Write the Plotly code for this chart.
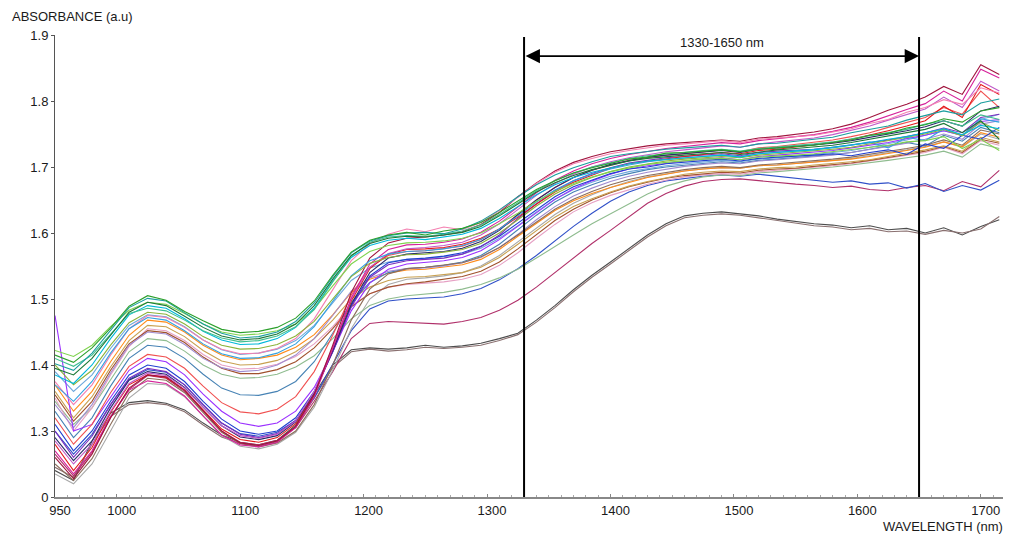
import plotly.graph_objects as go

# Wavelength grid (nm)
wavelength_nm = list(range(950, 1716, 15))

# Absorbance spectra (a.u.)
spec_a1 = [1.415, 1.404, 1.426, 1.456, 1.489, 1.505, 1.498, 1.481, 1.467, 1.454, 1.449, 1.451, 1.457, 1.471,
           1.497, 1.536, 1.571, 1.589, 1.597, 1.601,
           1.597, 1.603, 1.607, 1.616, 1.631,
           1.648, 1.666, 1.679, 1.691, 1.699, 1.706, 1.712, 1.715, 1.721, 1.722,
           1.724, 1.726, 1.723, 1.727, 1.729, 1.731, 1.733, 1.737, 1.741, 1.748, 1.751, 1.759, 1.764, 1.773, 1.768, 1.785, 1.790]
spec_a2 = [1.402, 1.392, 1.418, 1.452, 1.487, 1.501, 1.497, 1.479, 1.462, 1.448, 1.441, 1.443, 1.450, 1.466,
           1.494, 1.534, 1.570, 1.588, 1.596, 1.600,
           1.601, 1.599, 1.606, 1.618, 1.635,
           1.655, 1.673, 1.688, 1.699, 1.708, 1.716, 1.720, 1.724, 1.727, 1.729,
           1.731, 1.733, 1.730, 1.735, 1.736, 1.739, 1.742, 1.745, 1.752, 1.757, 1.762, 1.771, 1.778, 1.785, 1.779, 1.797, 1.803]
spec_a3 = [1.385, 1.372, 1.400, 1.440, 1.476, 1.490, 1.486, 1.470, 1.451, 1.438, 1.431, 1.432, 1.440, 1.457,
           1.486, 1.527, 1.563, 1.581, 1.589, 1.592,
           1.590, 1.594, 1.598, 1.607, 1.622,
           1.640, 1.658, 1.673, 1.684, 1.692, 1.699, 1.705, 1.709, 1.712, 1.714,
           1.716, 1.718, 1.715, 1.720, 1.722, 1.724, 1.726, 1.730, 1.733, 1.737, 1.742, 1.746, 1.752, 1.758, 1.749, 1.763, 1.758]
spec_a4 = [1.422, 1.413, 1.430, 1.458, 1.483, 1.495, 1.492, 1.478, 1.462, 1.450, 1.445, 1.447, 1.452, 1.462,
           1.485, 1.520, 1.553, 1.572, 1.581, 1.585,
           1.586, 1.588, 1.592, 1.600, 1.614,
           1.630, 1.648, 1.663, 1.675, 1.685, 1.693, 1.699, 1.704, 1.707, 1.710,
           1.712, 1.713, 1.711, 1.715, 1.716, 1.718, 1.720, 1.723, 1.726, 1.729, 1.733, 1.738, 1.740, 1.746, 1.728, 1.742, 1.725]
spec_a5 = [1.410, 1.398, 1.415, 1.447, 1.478, 1.486, 1.482, 1.468, 1.452, 1.441, 1.435, 1.437, 1.444, 1.458,
           1.484, 1.526, 1.565, 1.586, 1.594, 1.596,
           1.595, 1.598, 1.603, 1.612, 1.628,
           1.646, 1.664, 1.679, 1.691, 1.700, 1.707, 1.713, 1.717, 1.720, 1.722,
           1.725, 1.727, 1.724, 1.728, 1.730, 1.732, 1.735, 1.738, 1.743, 1.747, 1.753, 1.757, 1.765, 1.770, 1.762, 1.779, 1.772]
spec_p1 = [1.375, 1.340, 1.370, 1.415, 1.455, 1.475, 1.472, 1.457, 1.438, 1.424, 1.417, 1.418, 1.425, 1.440,
           1.470, 1.515, 1.558, 1.584, 1.598, 1.606,
           1.602, 1.609, 1.605, 1.616, 1.634,
           1.654, 1.675, 1.692, 1.705, 1.713, 1.720, 1.725, 1.729, 1.733, 1.735,
           1.738, 1.740, 1.737, 1.742, 1.744, 1.746, 1.748, 1.753, 1.758, 1.766, 1.772, 1.783, 1.790, 1.802, 1.795, 1.820, 1.812]
spec_b1 = [1.370, 1.330, 1.360, 1.405, 1.445, 1.468, 1.465, 1.450, 1.430, 1.415, 1.408, 1.410, 1.415, 1.427,
           1.446, 1.476, 1.510, 1.530, 1.539, 1.544,
           1.545, 1.548, 1.552, 1.560, 1.575,
           1.595, 1.615, 1.634, 1.649, 1.660, 1.669, 1.677, 1.684, 1.689, 1.694,
           1.697, 1.699, 1.698, 1.702, 1.703, 1.705, 1.707, 1.709, 1.712, 1.716, 1.720, 1.725, 1.730, 1.738, 1.731, 1.752, 1.745]
spec_b2 = [1.360, 1.320, 1.352, 1.397, 1.437, 1.460, 1.458, 1.443, 1.422, 1.406, 1.400, 1.401, 1.407, 1.420,
           1.440, 1.468, 1.500, 1.518, 1.528, 1.533,
           1.534, 1.537, 1.540, 1.548, 1.563,
           1.583, 1.604, 1.624, 1.640, 1.652, 1.662, 1.671, 1.678, 1.684, 1.689,
           1.692, 1.694, 1.693, 1.697, 1.699, 1.700, 1.703, 1.705, 1.708, 1.711, 1.716, 1.720, 1.726, 1.732, 1.724, 1.745, 1.738]
spec_b3 = [1.350, 1.300, 1.335, 1.385, 1.428, 1.455, 1.452, 1.437, 1.416, 1.400, 1.394, 1.395, 1.401, 1.413,
           1.432, 1.458, 1.490, 1.508, 1.518, 1.522,
           1.524, 1.526, 1.530, 1.537, 1.551,
           1.570, 1.592, 1.613, 1.632, 1.646, 1.657, 1.666, 1.674, 1.680, 1.685,
           1.688, 1.690, 1.689, 1.693, 1.695, 1.697, 1.700, 1.702, 1.705, 1.709, 1.713, 1.718, 1.722, 1.730, 1.720, 1.740, 1.733]
spec_b4 = [1.340, 1.305, 1.340, 1.388, 1.430, 1.450, 1.447, 1.431, 1.410, 1.396, 1.390, 1.392, 1.400, 1.415,
           1.440, 1.475, 1.512, 1.532, 1.542, 1.546,
           1.547, 1.550, 1.555, 1.563, 1.578,
           1.598, 1.620, 1.640, 1.656, 1.668, 1.678, 1.686, 1.692, 1.697, 1.701,
           1.704, 1.706, 1.705, 1.709, 1.711, 1.713, 1.715, 1.718, 1.722, 1.726, 1.731, 1.736, 1.742, 1.750, 1.742, 1.765, 1.770]
spec_b5 = [1.390, 1.360, 1.385, 1.425, 1.460, 1.476, 1.473, 1.458, 1.438, 1.423, 1.416, 1.418, 1.424, 1.437,
           1.460, 1.494, 1.528, 1.547, 1.556, 1.560,
           1.561, 1.564, 1.568, 1.577, 1.592,
           1.611, 1.632, 1.651, 1.666, 1.677, 1.686, 1.693, 1.698, 1.702, 1.705,
           1.708, 1.710, 1.708, 1.712, 1.714, 1.716, 1.719, 1.722, 1.725, 1.730, 1.735, 1.741, 1.748, 1.755, 1.748, 1.772, 1.780]
spec_b6 = [1.345, 1.310, 1.335, 1.378, 1.420, 1.440, 1.437, 1.421, 1.400, 1.386, 1.380, 1.381, 1.386, 1.397,
           1.414, 1.440, 1.470, 1.490, 1.500, 1.505,
           1.508, 1.510, 1.515, 1.522, 1.532,
           1.545, 1.562, 1.580, 1.597, 1.614, 1.629, 1.645, 1.659, 1.671, 1.679,
           1.685, 1.688, 1.687, 1.691, 1.693, 1.695, 1.697, 1.700, 1.703, 1.706, 1.710, 1.714, 1.718, 1.724, 1.715, 1.735, 1.728]
spec_c1 = [1.310, 1.270, 1.300, 1.345, 1.385, 1.400, 1.395, 1.375, 1.345, 1.318, 1.300, 1.295, 1.300, 1.320,
           1.360, 1.420, 1.490, 1.535, 1.555, 1.560,
           1.562, 1.565, 1.570, 1.580, 1.595,
           1.615, 1.635, 1.655, 1.670, 1.680, 1.690, 1.697, 1.700, 1.705, 1.707,
           1.710, 1.712, 1.709, 1.713, 1.715, 1.716, 1.718, 1.720, 1.717, 1.722, 1.726, 1.719, 1.735, 1.728, 1.748, 1.742, 1.760]
spec_c2 = [1.300, 1.260, 1.292, 1.340, 1.380, 1.395, 1.390, 1.370, 1.340, 1.312, 1.295, 1.290, 1.296, 1.316,
           1.358, 1.420, 1.488, 1.533, 1.552, 1.558,
           1.560, 1.562, 1.568, 1.579, 1.597,
           1.622, 1.644, 1.664, 1.679, 1.690, 1.699, 1.706, 1.710, 1.714, 1.716,
           1.718, 1.720, 1.717, 1.722, 1.724, 1.725, 1.727, 1.730, 1.733, 1.737, 1.741, 1.746, 1.752, 1.759, 1.752, 1.775, 1.780]
spec_c3 = [1.280, 1.240, 1.275, 1.328, 1.370, 1.385, 1.381, 1.362, 1.332, 1.303, 1.287, 1.283, 1.290, 1.311,
           1.356, 1.424, 1.497, 1.546, 1.568, 1.575,
           1.576, 1.578, 1.583, 1.592, 1.606,
           1.624, 1.644, 1.662, 1.677, 1.688, 1.698, 1.705, 1.709, 1.713, 1.716,
           1.719, 1.722, 1.720, 1.725, 1.727, 1.730, 1.733, 1.737, 1.742, 1.748, 1.755, 1.762, 1.770, 1.792, 1.775, 1.825, 1.810]
spec_c4 = [1.290, 1.255, 1.285, 1.335, 1.377, 1.390, 1.386, 1.366, 1.336, 1.308, 1.291, 1.287, 1.293, 1.314,
           1.358, 1.422, 1.492, 1.540, 1.562, 1.568,
           1.570, 1.572, 1.577, 1.587, 1.604,
           1.628, 1.650, 1.669, 1.684, 1.695, 1.704, 1.710, 1.715, 1.718, 1.720,
           1.722, 1.725, 1.722, 1.727, 1.729, 1.731, 1.733, 1.736, 1.740, 1.745, 1.749, 1.755, 1.761, 1.770, 1.762, 1.785, 1.792]
spec_c5 = [1.270, 1.235, 1.270, 1.322, 1.362, 1.376, 1.372, 1.353, 1.323, 1.294, 1.279, 1.276, 1.283, 1.305,
           1.352, 1.425, 1.502, 1.553, 1.575, 1.582,
           1.583, 1.586, 1.591, 1.601, 1.618,
           1.640, 1.661, 1.680, 1.694, 1.705, 1.713, 1.719, 1.724, 1.728, 1.731,
           1.734, 1.737, 1.735, 1.740, 1.743, 1.746, 1.749, 1.754, 1.760, 1.768, 1.778, 1.787, 1.796, 1.815, 1.800, 1.848, 1.835]
spec_c6 = [1.475, 1.300, 1.310, 1.352, 1.392, 1.410, 1.405, 1.385, 1.356, 1.330, 1.312, 1.307, 1.312, 1.330,
           1.366, 1.420, 1.482, 1.524, 1.545, 1.553,
           1.555, 1.558, 1.563, 1.573, 1.590,
           1.610, 1.631, 1.651, 1.667, 1.679, 1.689, 1.697, 1.702, 1.706, 1.709,
           1.712, 1.714, 1.711, 1.716, 1.718, 1.720, 1.722, 1.725, 1.729, 1.733, 1.737, 1.743, 1.748, 1.755, 1.748, 1.769, 1.772]
spec_c7 = [1.250, 1.225, 1.258, 1.310, 1.358, 1.380, 1.377, 1.358, 1.328, 1.298, 1.281, 1.276, 1.282, 1.300,
           1.340, 1.400, 1.468, 1.515, 1.538, 1.546,
           1.548, 1.551, 1.555, 1.564, 1.578,
           1.597, 1.617, 1.636, 1.651, 1.663, 1.673, 1.681, 1.687, 1.692, 1.696,
           1.699, 1.701, 1.699, 1.703, 1.705, 1.707, 1.709, 1.712, 1.715, 1.719, 1.723, 1.728, 1.733, 1.741, 1.733, 1.756, 1.750]
spec_c8 = [1.260, 1.228, 1.265, 1.320, 1.365, 1.385, 1.382, 1.362, 1.331, 1.300, 1.282, 1.278, 1.285, 1.307,
           1.355, 1.430, 1.510, 1.562, 1.585, 1.592,
           1.594, 1.597, 1.602, 1.613, 1.631,
           1.655, 1.676, 1.694, 1.707, 1.716, 1.723, 1.728, 1.732, 1.735, 1.737,
           1.739, 1.741, 1.739, 1.744, 1.746, 1.749, 1.753, 1.758, 1.765, 1.775, 1.786, 1.795, 1.806, 1.822, 1.810, 1.855, 1.840]
spec_d1 = [1.395, 1.385, 1.410, 1.445, 1.480, 1.495, 1.490, 1.474, 1.457, 1.444, 1.438, 1.440, 1.447, 1.462,
           1.490, 1.530, 1.566, 1.584, 1.592, 1.595,
           1.594, 1.597, 1.601, 1.610, 1.626,
           1.644, 1.662, 1.676, 1.687, 1.696, 1.703, 1.709, 1.713, 1.716, 1.718,
           1.720, 1.722, 1.719, 1.723, 1.726, 1.728, 1.730, 1.733, 1.737, 1.742, 1.746, 1.752, 1.757, 1.766, 1.752, 1.770, 1.742]
spec_d2 = [1.330, 1.290, 1.320, 1.368, 1.410, 1.430, 1.427, 1.410, 1.386, 1.365, 1.355, 1.354, 1.360, 1.375,
           1.405, 1.448, 1.495, 1.525, 1.540, 1.546,
           1.548, 1.551, 1.556, 1.566, 1.583,
           1.605, 1.627, 1.647, 1.662, 1.673, 1.683, 1.690, 1.696, 1.700, 1.703,
           1.706, 1.708, 1.706, 1.710, 1.712, 1.714, 1.716, 1.719, 1.722, 1.727, 1.731, 1.737, 1.732, 1.748, 1.739, 1.760, 1.752]
spec_d3 = [1.355, 1.315, 1.345, 1.392, 1.432, 1.452, 1.449, 1.434, 1.412, 1.395, 1.387, 1.387, 1.393, 1.405,
           1.426, 1.455, 1.488, 1.508, 1.518, 1.523,
           1.526, 1.530, 1.534, 1.542, 1.556,
           1.576, 1.598, 1.619, 1.636, 1.650, 1.661, 1.670, 1.677, 1.683, 1.687,
           1.690, 1.692, 1.691, 1.695, 1.697, 1.698, 1.701, 1.703, 1.706, 1.710, 1.714, 1.719, 1.724, 1.731, 1.722, 1.742, 1.736]
spec_d4 = [1.320, 1.280, 1.310, 1.358, 1.398, 1.416, 1.412, 1.395, 1.368, 1.343, 1.329, 1.326, 1.333, 1.352,
           1.390, 1.445, 1.506, 1.548, 1.566, 1.572,
           1.573, 1.576, 1.580, 1.590, 1.606,
           1.628, 1.650, 1.669, 1.684, 1.695, 1.703, 1.710, 1.714, 1.718, 1.720,
           1.723, 1.726, 1.723, 1.729, 1.731, 1.734, 1.737, 1.741, 1.746, 1.752, 1.760, 1.768, 1.775, 1.790, 1.780, 1.815, 1.790]
spec_d5 = [1.235, 1.220, 1.250, 1.300, 1.350, 1.372, 1.370, 1.352, 1.322, 1.293, 1.277, 1.273, 1.280, 1.298,
           1.336, 1.392, 1.455, 1.500, 1.522, 1.530,
           1.532, 1.535, 1.540, 1.550, 1.566,
           1.587, 1.608, 1.628, 1.645, 1.658, 1.669, 1.678, 1.685, 1.690, 1.694,
           1.697, 1.699, 1.698, 1.702, 1.703, 1.705, 1.707, 1.710, 1.713, 1.717, 1.721, 1.726, 1.731, 1.738, 1.730, 1.750, 1.742]
spec_d6 = [1.370, 1.345, 1.375, 1.418, 1.455, 1.472, 1.468, 1.452, 1.432, 1.417, 1.410, 1.411, 1.418, 1.432,
           1.458, 1.497, 1.535, 1.558, 1.568, 1.572,
           1.573, 1.576, 1.581, 1.590, 1.606,
           1.626, 1.647, 1.665, 1.679, 1.689, 1.697, 1.703, 1.708, 1.711, 1.714,
           1.716, 1.718, 1.716, 1.720, 1.722, 1.724, 1.726, 1.729, 1.733, 1.738, 1.729, 1.745, 1.740, 1.758, 1.748, 1.773, 1.768]
spec_d7 = [1.400, 1.370, 1.392, 1.430, 1.464, 1.480, 1.477, 1.462, 1.443, 1.430, 1.424, 1.425, 1.431, 1.444,
           1.466, 1.500, 1.534, 1.554, 1.563, 1.567,
           1.568, 1.571, 1.575, 1.584, 1.600,
           1.620, 1.641, 1.659, 1.673, 1.684, 1.693, 1.700, 1.705, 1.709, 1.712,
           1.714, 1.716, 1.714, 1.718, 1.720, 1.722, 1.724, 1.727, 1.730, 1.735, 1.739, 1.744, 1.750, 1.757, 1.747, 1.768, 1.755]
spec_d8 = [1.285, 1.250, 1.280, 1.330, 1.372, 1.388, 1.384, 1.365, 1.336, 1.308, 1.293, 1.289, 1.295, 1.315,
           1.360, 1.427, 1.500, 1.548, 1.569, 1.576,
           1.578, 1.581, 1.586, 1.597, 1.614,
           1.636, 1.657, 1.675, 1.689, 1.700, 1.708, 1.714, 1.719, 1.723, 1.726,
           1.729, 1.732, 1.730, 1.735, 1.738, 1.741, 1.744, 1.749, 1.755, 1.762, 1.771, 1.779, 1.788, 1.806, 1.790, 1.830, 1.815]
spec_m1 = [1.265, 1.232, 1.268, 1.320, 1.363, 1.384, 1.380, 1.360, 1.330, 1.300, 1.283, 1.279, 1.286, 1.305,
           1.345, 1.390, 1.440, 1.463, 1.466, 1.465,
           1.464, 1.462, 1.466, 1.472, 1.483,
           1.498, 1.518, 1.540, 1.562, 1.584, 1.604, 1.624, 1.645, 1.660, 1.671,
           1.678, 1.681, 1.682, 1.679, 1.677, 1.674, 1.672, 1.669, 1.671, 1.666, 1.664, 1.669, 1.672, 1.664, 1.678, 1.670, 1.695]
spec_m2 = [1.300, 1.265, 1.295, 1.340, 1.378, 1.393, 1.389, 1.370, 1.340, 1.312, 1.296, 1.292, 1.298, 1.316,
           1.350, 1.400, 1.452, 1.485, 1.497, 1.500,
           1.501, 1.503, 1.508, 1.516, 1.529,
           1.546, 1.566, 1.588, 1.610, 1.630, 1.648, 1.662, 1.672, 1.679, 1.683,
           1.686, 1.688, 1.686, 1.689, 1.686, 1.683, 1.680, 1.677, 1.679, 1.674, 1.676, 1.668, 1.675, 1.663, 1.672, 1.665, 1.680]
spec_g1 = [1.240, 1.225, 1.285, 1.327, 1.343, 1.346, 1.342, 1.332, 1.312, 1.294, 1.283, 1.279, 1.286, 1.309,
           1.355, 1.400, 1.423, 1.426, 1.424, 1.426,
           1.430, 1.427, 1.429, 1.433, 1.440,
           1.448, 1.468, 1.490, 1.514, 1.536, 1.556, 1.577, 1.597, 1.614, 1.626,
           1.630, 1.632, 1.629, 1.626, 1.621, 1.617, 1.614, 1.612, 1.608, 1.611, 1.605, 1.607, 1.600, 1.608, 1.597, 1.610, 1.620]
spec_g2 = [1.245, 1.230, 1.280, 1.322, 1.340, 1.343, 1.340, 1.329, 1.309, 1.291, 1.281, 1.277, 1.284, 1.306,
           1.350, 1.396, 1.420, 1.424, 1.421, 1.423,
           1.427, 1.425, 1.427, 1.430, 1.437,
           1.446, 1.465, 1.487, 1.511, 1.533, 1.553, 1.574, 1.594, 1.611, 1.623,
           1.627, 1.629, 1.627, 1.623, 1.618, 1.615, 1.611, 1.609, 1.605, 1.607, 1.602, 1.603, 1.598, 1.604, 1.600, 1.606, 1.625]

spectra = [
    (spec_g1, "#4d4d4d"), (spec_g2, "#8a7070"),
    (spec_m1, "#b0306a"), (spec_m2, "#3050c8"),
    (spec_d5, "#a8a8a8"), (spec_b6, "#8fbc8f"), (spec_b3, "#e6a0c4"), (spec_d3, "#a0522d"),
    (spec_b2, "#c8a050"), (spec_b1, "#ff8c1a"), (spec_d2, "#4682b4"),
    (spec_b4, "#a08cd0"), (spec_b5, "#6fa8dc"),
    (spec_c7, "#8c6d5a"), (spec_c6, "#9b30ff"), (spec_c1, "#1f3fd0"), (spec_c2, "#7b2fbe"),
    (spec_d4, "#f05050"), (spec_c3, "#e41a1c"), (spec_c4, "#2a2a6a"), (spec_d8, "#c05ac8"),
    (spec_c5, "#d6229a"), (spec_c8, "#a0153e"),
    (spec_p1, "#f47fb0"), (spec_d6, "#33a1e0"), (spec_d7, "#8db33a"),
    (spec_a4, "#7fd34e"), (spec_a3, "#00b8d8"), (spec_a5, "#3fbf8f"), (spec_d1, "#1b7837"),
    (spec_a2, "#1a9e9e"), (spec_a1, "#2ca02c"),
]

y_tick_vals = [1.2, 1.3, 1.4, 1.5, 1.6, 1.7, 1.8, 1.9]
y_tick_text = ["0", "1.3", "1.4", "1.5", "1.6", "1.7", "1.8", "1.9"]
x_tick_vals = [950, 1000, 1100, 1200, 1300, 1400, 1500, 1600, 1700]

band_start, band_end = 1330, 1650

fig = go.Figure()
for values, color in spectra:
    fig.add_trace(go.Scatter(x=wavelength_nm, y=values, mode="lines",
                             line=dict(color=color, width=1.1),
                             showlegend=False, hoverinfo="skip"))

font = dict(family="Liberation Sans, Arial, sans-serif", size=13, color="#1a1a1a")

fig.update_layout(
    width=1011, height=535,
    margin=dict(l=55, r=8, t=35, b=38),
    paper_bgcolor="white", plot_bgcolor="white",
    font=font,
    xaxis=dict(range=[950, 1718], tickvals=x_tick_vals, showgrid=False, zeroline=False,
               showline=True, linecolor="#888", linewidth=1.5,
               ticks="inside", ticklen=3, tickcolor="#888",
               ticklabelstandoff=1, ticklabelshift=5,
               minor=dict(dtick=10, ticks="inside", ticklen=2, tickcolor="#aaa"),
               tickfont=font),
    yaxis=dict(range=[1.2, 1.9], tickvals=y_tick_vals, ticktext=y_tick_text,
               showgrid=False, zeroline=False, showline=True, linecolor="#555", linewidth=1,
               ticks="outside", ticklen=3, tickcolor="#555", tickfont=font),
)

# Vertical markers delimiting the selected band
for wl in (band_start, band_end):
    fig.add_shape(type="line", xref="x", yref="y", x0=wl, x1=wl, y0=1.2, y1=1.897,
                  line=dict(color="black", width=2))

# Double-headed arrow with the band label
fig.add_annotation(x=band_end, y=1.868, ax=band_start, ay=1.868, xref="x", yref="y",
                   axref="x", ayref="y", text="", showarrow=True, arrowside="end+start",
                   arrowhead=2, arrowsize=1.6, arrowwidth=1.8, arrowcolor="black")
fig.add_annotation(x=(band_start + band_end) / 2, y=1.889, xref="x", yref="y",
                   text="1330-1650 nm", showarrow=False, font=font)

# Axis titles
fig.add_annotation(x=-0.047, y=1.039, xref="paper", yref="paper", xanchor="left", yanchor="middle",
                   text="ABSORBANCE (a.u)", showarrow=False, font=font)
fig.add_annotation(x=1.002, y=-0.064, xref="paper", yref="paper", xanchor="right", yanchor="middle",
                   text="WAVELENGTH (nm)", showarrow=False, font=font)

fig.write_html("out.html")
